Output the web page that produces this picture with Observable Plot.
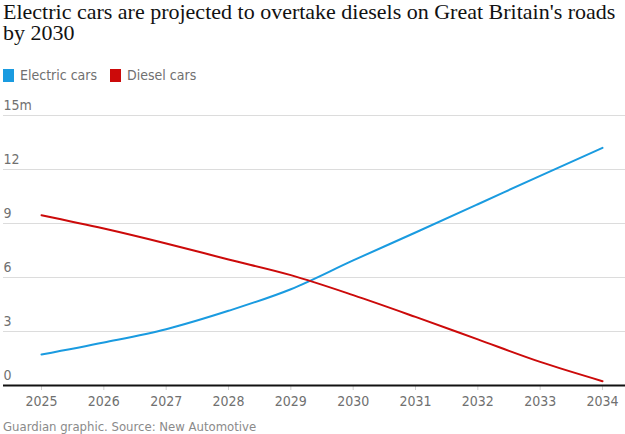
<!DOCTYPE html>
<html>
<head>
<meta charset="utf-8">
<script src="https://cdn.jsdelivr.net/npm/d3@7"></script>
<script src="https://cdn.jsdelivr.net/npm/@observablehq/plot@0.6"></script>
<style>
  html, body { margin: 0; padding: 0; background: #fff; }
  body { width: 625px; height: 434px; position: relative; overflow: hidden; }
  #title { position: absolute; left: 3px; top: 1px; width: 622px; font-family: "Liberation Serif", "DejaVu Serif", serif; font-size: 22px; line-height: 21px; color: #121212; }
  #legend { position: absolute; left: 3px; top: 67px; font-family: "Liberation Sans Narrow", "DejaVu Sans Condensed", sans-serif; font-size: 14px; color: #707070; display: flex; align-items: center; }
  .sw { display: inline-block; width: 11px; height: 13px; margin-right: 6px; }
  .item { display: flex; align-items: center; margin-right: 13px; }
  #chart { position: absolute; left: 0; top: 95px; }
  #caption { position: absolute; left: 3px; top: 419px; font-family: "Liberation Sans Narrow", "DejaVu Sans Condensed", sans-serif; font-size: 13px; color: #8a8a8a; }
</style>
</head>
<body>
<div id="title">Electric cars are projected to overtake diesels on Great Britain's roads by 2030</div>
<div id="legend"></div>
<div id="chart"></div>
<div id="caption">Guardian graphic. Source: New Automotive</div>
<script>
const years = [2025, 2026, 2027, 2028, 2029, 2030, 2031, 2032, 2033, 2034];
const electric = [1.72, 2.39, 3.13, 4.15, 5.35, 6.95, 8.5, 10.07, 11.65, 13.2];
const diesel = [9.46, 8.72, 7.89, 7.0, 6.13, 5.02, 3.81, 2.56, 1.31, 0.24];
const seriesNames = ["Electric cars", "Diesel cars"];
const seriesColors = ["#1a9be0", "#cc0a0a"];
const yTicks = [0, 3, 6, 9, 12, 15];
const yTickLabels = ["0", "3", "6", "9", "12", "15m"];

const data = [];
years.forEach((y, i) => {
  data.push({year: y, value: electric[i], series: seriesNames[0]});
  data.push({year: y, value: diesel[i], series: seriesNames[1]});
});

const legend = document.getElementById("legend");
seriesNames.forEach((n, i) => {
  const it = document.createElement("span");
  it.className = "item";
  it.innerHTML = `<span class="sw" style="background:${seriesColors[i]}"></span>${n}`;
  legend.appendChild(it);
});

const font = '"Liberation Sans Narrow", "DejaVu Sans Condensed", sans-serif';
const yLabelData = yTicks.map((t, i) => ({v: t, label: yTickLabels[i]}));

const plot = Plot.plot({
  width: 625,
  height: 320,
  marginTop: 20,
  marginBottom: 30,
  marginLeft: 41,
  marginRight: 23,
  style: {fontFamily: font, fontSize: "14px", color: "#707070", background: "transparent"},
  x: {domain: [2025, 2034], axis: null},
  y: {domain: [0, 15], axis: null},
  color: {domain: seriesNames, range: seriesColors},
  marks: [
    Plot.ruleY(yTicks.filter(t => t > 0), {stroke: "#dcdcdc", strokeWidth: 1, insetLeft: -38, insetRight: -23}),
    Plot.text(yLabelData, {y: "v", text: "label", frameAnchor: "left", dx: -38, dy: -10, textAnchor: "start", fill: "#707070", fontSize: 14}),
    Plot.axisX({ticks: years, tickFormat: d => String(d), tickSize: 5, tickPadding: 6, stroke: "#cfcfcf", fill: "#707070", fontSize: 14, label: null}),
    Plot.line(data, {x: "year", y: "value", z: "series", stroke: "series", strokeWidth: 2, curve: "monotone-x"}),
    Plot.ruleY([0], {stroke: "#121212", strokeWidth: 2, insetLeft: -38, insetRight: -23})
  ]
});
document.getElementById("chart").appendChild(plot);
</script>
</body>
</html>
